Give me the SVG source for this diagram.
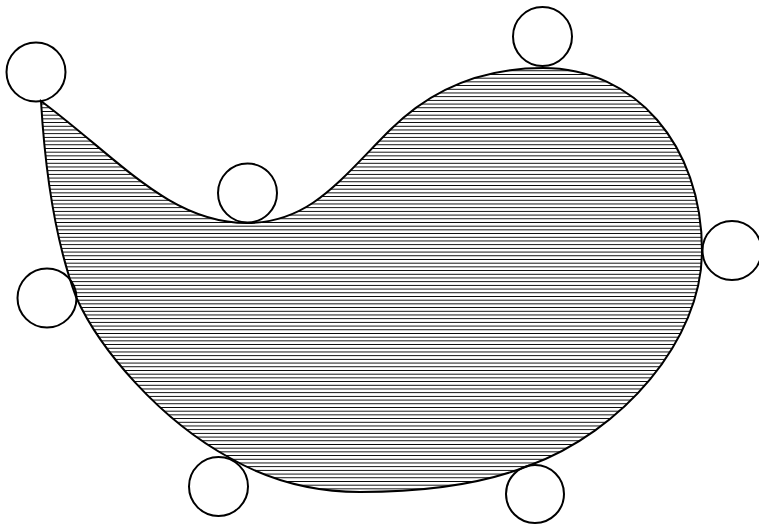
<svg xmlns="http://www.w3.org/2000/svg" width="759" height="525" viewBox="0 0 759 525">
  <defs>
    <pattern id="hatch" patternUnits="userSpaceOnUse" width="20" height="3.7">
      <line x1="0" y1="0.5" x2="20" y2="0.5" stroke="#000" stroke-width="1.2" shape-rendering="crispEdges"/>
    </pattern>
    <style>
      .c { fill: none; stroke: #000; stroke-width: 2; }
      .shape { fill: url(#hatch); stroke: #000; stroke-width: 2; stroke-linejoin: miter; }
    </style>
  </defs>
  <rect width="759" height="525" fill="#fff"/>
  <g id="blob">
    <path class="shape" d="M41,101 C120,160 170,223 247,223 C310,223 340,180 390,130 C430,90 480,68 543,68 C635,68 702,145 702,251 C702,340 622,432 528,466 C480,485 420,492 360,492 C310,492 265,478 230,458 C160,420 100,350 76,297 C55,240 45,170 41,101 Z"/>
  </g>
  <g id="circles">
    <circle id="c1" class="c" cx="36" cy="72" r="29.5"/>
    <circle id="c2" class="c" cx="247.5" cy="193" r="29.5"/>
    <circle id="c3" class="c" cx="542.5" cy="36.5" r="29.5"/>
    <circle id="c4" class="c" cx="732" cy="250.5" r="29.5"/>
    <circle id="c5" class="c" cx="47" cy="298" r="29.5"/>
    <circle id="c6" class="c" cx="218.5" cy="486.5" r="29.5"/>
    <circle id="c7" class="c" cx="535" cy="494" r="29"/>
  </g>
</svg>
